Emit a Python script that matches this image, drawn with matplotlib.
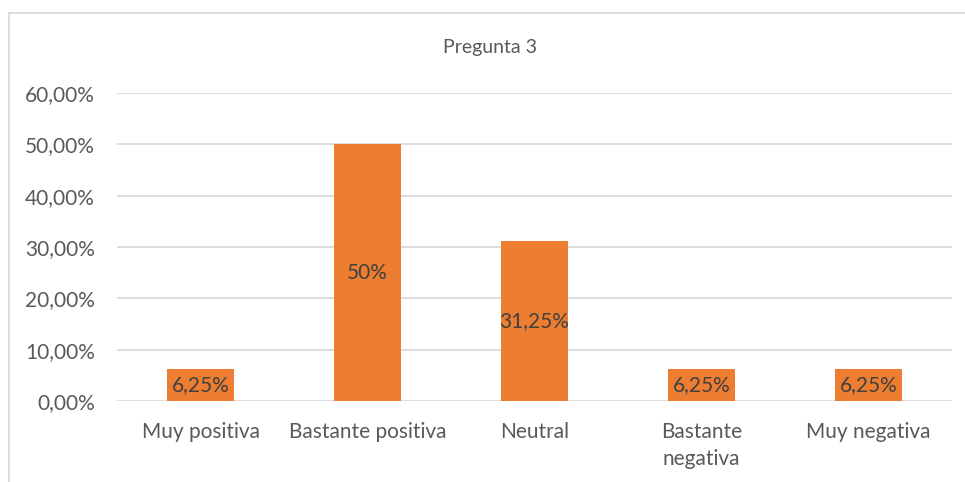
import matplotlib.pyplot as plt
from matplotlib.lines import Line2D

# Survey answers for question 3 (percent of respondents)
categorias = ['Muy positiva', 'Bastante positiva', 'Neutral', 'Bastante\nnegativa', 'Muy negativa']
porcentajes = [6.25, 50.0, 31.25, 6.25, 6.25]
etiquetas = ['6,25%', '50%', '31,25%', '6,25%', '6,25%']
ticks_y = [0, 10, 20, 30, 40, 50, 60]

plt.rcParams['font.family'] = ['Lato', 'DejaVu Sans']

fig = plt.figure(figsize=(9.65, 4.82), dpi=100)
ax = fig.add_axes([117 / 965, 1 - 401 / 482, 835 / 965, 308 / 482])

x = range(len(categorias))
bars = ax.bar(x, porcentajes, width=0.4, color='#ED7D31', zorder=2)

# value labels centred in each bar
for b, txt in zip(bars, etiquetas):
    ax.text(b.get_x() + b.get_width() / 2, b.get_height() / 2, txt,
            ha='center', va='center', fontsize=15, color='#404040', zorder=3)

ax.set_xlim(-0.5, len(categorias) - 0.5)
ax.set_ylim(0, 60)
ax.set_yticks(ticks_y)
ax.set_yticklabels([f'{v:.2f}%'.replace('.', ',') for v in ticks_y])
ax.set_xticks(list(x))
ax.set_xticklabels(categorias, linespacing=1.45)
ax.tick_params(axis='both', length=0, labelsize=15, labelcolor='#595959')
ax.tick_params(axis='y', pad=16)
ax.tick_params(axis='x', pad=15)
ax.yaxis.grid(True, color='#D9D9D9', linewidth=1.3, zorder=0)
for s in ax.spines.values():
    s.set_visible(False)

fig.text(490 / 965, 1 - 47 / 482, 'Pregunta 3', ha='center', va='center',
         fontsize=14, color='#595959')

# chart area border (top and left edges visible)
fig.add_artist(Line2D([8.5 / 965, 8.5 / 965], [0, 1 - 12.5 / 482],
                      transform=fig.transFigure, color='#D9D9D9', linewidth=1.3))
fig.add_artist(Line2D([8.5 / 965, 1], [1 - 12.5 / 482, 1 - 12.5 / 482],
                      transform=fig.transFigure, color='#D9D9D9', linewidth=1.3))

fig.savefig('out.png', dpi=100)
